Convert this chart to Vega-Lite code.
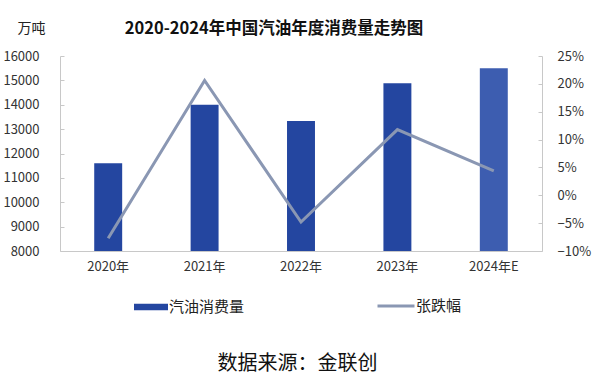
{
  "$schema": "https://vega.github.io/schema/vega-lite/v6.json",
  "autosize": {"type": "none"},
  "width": 482,
  "height": 195,
  "padding": {"left": 60, "top": 56, "right": 52, "bottom": 135},
  "background": "white",
  "config": {
    "view": {"stroke": null},
    "font": "Noto Sans CJK SC",
    "axis": {"labelFont": "Noto Sans CJK SC", "titleFont": "Noto Sans CJK SC", "grid": false}
  },
  "title": {
    "text": "2020-2024年中国汽油年度消费量走势图",
    "font": "Noto Sans CJK SC",
    "fontSize": 16.5,
    "fontWeight": "bold",
    "color": "#111111",
    "anchor": "middle",
    "dx": -27,
    "offset": -16
  },
  "data": {
    "values": [
      {"year": "2020年", "consumption": 11600, "change": -0.077, "bar_series": "汽油消费量", "line_series": "张跌幅"},
      {"year": "2021年", "consumption": 14000, "change": 0.206, "bar_series": "汽油消费量", "line_series": "张跌幅"},
      {"year": "2022年", "consumption": 13330, "change": -0.048, "bar_series": "汽油消费量", "line_series": "张跌幅"},
      {"year": "2023年", "consumption": 14880, "change": 0.118, "bar_series": "汽油消费量", "line_series": "张跌幅"},
      {"year": "2024年E", "consumption": 15500, "change": 0.044, "bar_series": "汽油消费量", "line_series": "张跌幅"}
    ]
  },
  "encoding": {
    "x": {
      "field": "year",
      "type": "nominal",
      "sort": null,
      "scale": {"paddingInner": 0.71, "paddingOuter": 0.355},
      "axis": {
        "title": "数据来源：金联创",
        "titleFontSize": 20,
        "titleFontWeight": "normal",
        "titleColor": "#111111",
        "titleX": 237,
        "titleY": 112,
        "titleBaseline": "middle",
        "titleAlign": "center",
        "labelAngle": 0,
        "labelFontSize": 13,
        "labelColor": "#333333",
        "labelPadding": 9,
        "ticks": false,
        "domainColor": "#c8c8c8",
        "domainWidth": 1
      }
    }
  },
  "layer": [
    {
      "mark": {"type": "bar", "clip": true},
      "encoding": {
        "y": {
          "field": "consumption",
          "type": "quantitative",
          "scale": {"domain": [8000, 16000], "zero": false, "nice": false},
          "axis": {
            "title": "万吨",
            "titleAngle": 0,
            "titleX": -29,
            "titleY": -28,
            "titleAlign": "center",
            "titleBaseline": "middle",
            "titleFontSize": 14,
            "titleFontWeight": "normal",
            "titleColor": "#222222",
            "values": [8000, 9000, 10000, 11000, 12000, 13000, 14000, 15000, 16000],
            "format": "d",
            "labelFontSize": 13,
            "labelColor": "#333333",
            "labelPadding": 25,
            "tickSize": -4,
            "tickColor": "#c8c8c8",
            "domainColor": "#c8c8c8"
          }
        },
        "fill": {
          "condition": {"test": "datum.year === '2024年E'", "value": "#3d5db0"},
          "field": "bar_series",
          "type": "nominal",
          "scale": {"range": ["#2446a0"]},
          "legend": {
            "title": null,
            "orient": "none",
            "legendX": 74,
            "legendY": 234,
            "padding": 0,
            "symbolType": "M-1,-0.19H1V0.19H-1Z",
            "symbolSize": 1156,
            "symbolStrokeWidth": 0,
            "labelFontSize": 15,
            "labelColor": "#222222",
            "labelOffset": 1
          }
        }
      }
    },
    {
      "mark": {"type": "line", "strokeWidth": 3},
      "encoding": {
        "y": {
          "field": "change",
          "type": "quantitative",
          "scale": {"domain": [-0.1, 0.25], "zero": false, "nice": false},
          "axis": {
            "orient": "right",
            "title": null,
            "values": [-0.1, -0.05, 0, 0.05, 0.1, 0.15, 0.2, 0.25],
            "format": ".0%",
            "labelFontSize": 13,
            "labelColor": "#333333",
            "labelPadding": 19,
            "tickSize": -4,
            "tickColor": "#c8c8c8",
            "domainColor": "#c8c8c8"
          }
        },
        "stroke": {
          "field": "line_series",
          "type": "nominal",
          "scale": {"range": ["#8a97b3"]},
          "legend": {
            "title": null,
            "orient": "none",
            "legendX": 316,
            "legendY": 230,
            "padding": 0,
            "symbolType": "stroke",
            "symbolSize": 1369,
            "symbolStrokeWidth": 3,
            "labelFontSize": 15,
            "labelColor": "#222222",
            "labelOffset": 0
          }
        }
      }
    }
  ],
  "resolve": {"scale": {"y": "independent"}}
}
